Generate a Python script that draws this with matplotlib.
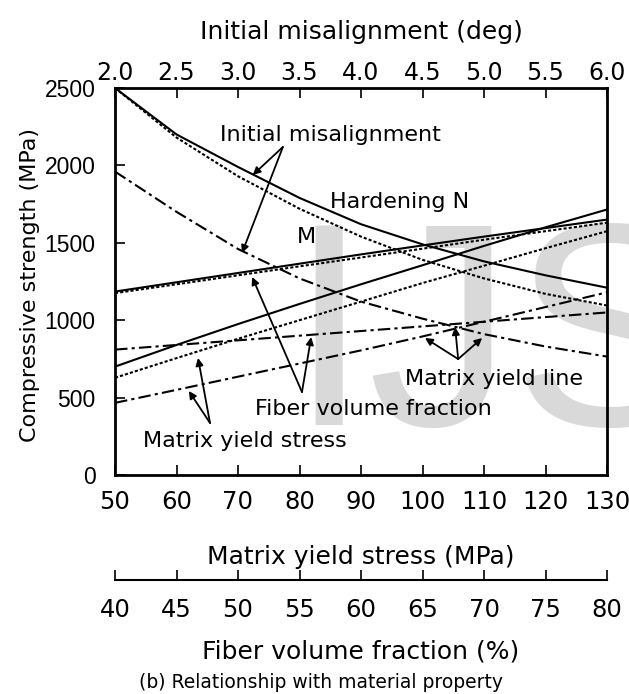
import numpy as np
import matplotlib.pyplot as plt

plt.rcParams['font.family'] = 'DejaVu Sans'

# initial misalignment (deg) -> top axis
misalign = [2.0, 2.5, 3.0, 3.5, 4.0, 4.5, 5.0, 5.5, 6.0]
mis_N = [2500, 2200, 1990, 1790, 1620, 1490, 1380, 1290, 1210]
mis_M = [2500, 2180, 1930, 1720, 1540, 1390, 1270, 1170, 1095]
mis_yield = [1960, 1700, 1460, 1270, 1120, 1010, 910, 830, 765]

# matrix yield stress (MPa) -> bottom axis
yield_stress = [50, 60, 70, 80, 90, 100, 110, 120, 130]
ys_N = [700, 840, 975, 1105, 1232, 1355, 1480, 1600, 1715]
ys_M = [628, 755, 880, 1000, 1120, 1240, 1352, 1465, 1575]
ys_yield = [466, 550, 635, 720, 805, 895, 990, 1085, 1180]

# fiber volume fraction (%) -> second bottom axis
fiber = [40, 45, 50, 55, 60, 65, 70, 75, 80]
fv_N = [1185, 1245, 1305, 1365, 1425, 1483, 1540, 1595, 1650]
fv_M = [1175, 1232, 1290, 1348, 1405, 1462, 1520, 1575, 1630]
fv_yield = [810, 840, 870, 900, 930, 960, 990, 1020, 1050]

mis_ticks = [2.0, 2.5, 3.0, 3.5, 4.0, 4.5, 5.0, 5.5, 6.0]
ys_ticks = [50, 60, 70, 80, 90, 100, 110, 120, 130]
fv_ticks = [40, 45, 50, 55, 60, 65, 70, 75, 80]
str_ticks = [0, 500, 1000, 1500, 2000, 2500]

sty_N = dict(color='black', lw=1.5, ls='-')
sty_M = dict(color='black', lw=1.5, ls=(0, (1.5, 1)))
sty_Y = dict(color='black', lw=1.5, ls=(0, (6, 2, 1.5, 2)))

fig = plt.figure(figsize=(6.29, 6.94), dpi=100, facecolor='white')
ax = fig.add_axes([115/629, 1 - 475/694, 492/629, 387/694])
ax.patch.set_visible(False)

# watermark
fig.text(288/629, 1 - 425/694, 'IJS', fontsize=208, family='Liberation Sans',
         color='#d9d9d9', ha='left', va='baseline', zorder=-1)

ax.set_xlim(50, 130)
ax.set_ylim(0, 2500)
ax.set_xticks(ys_ticks)
ax.set_yticks(str_ticks, labels=[str(t) for t in str_ticks],
              fontfamily='Liberation Sans', fontsize=16.5)
ax.tick_params(direction='in', length=7, width=1.2, right=False)
ax.tick_params(axis='x', pad=11, labelsize=17.5)
ax.tick_params(axis='y', pad=14)
for s in ax.spines.values():
    s.set_linewidth(2)
ax.set_xlabel('Matrix yield stress (MPa)', fontsize=18, va='center')
ax.xaxis.set_label_coords(0.5, (475 - 557) / 387)
ax.set_ylabel('Compressive strength (MPa)', fontsize=16, va='center')
ax.yaxis.set_label_coords((30 - 115) / 492, 0.49)

ax.plot(yield_stress, ys_N, **sty_N)
ax.plot(yield_stress, ys_M, **sty_M)
ax.plot(yield_stress, ys_yield, **sty_Y)

# top axis: initial misalignment
ax_top = ax.twiny()
ax_top.set_xlim(2, 6)
ax_top.set_xticks(mis_ticks)
ax_top.set_xticklabels(['%.1f' % t for t in mis_ticks])
ax_top.tick_params(direction='in', length=7, width=1.2, labelsize=17, pad=2)
for s in ax_top.spines.values():
    s.set_visible(False)
ax_top.set_xlabel('Initial misalignment (deg)', fontsize=18, labelpad=16)
ax_top.plot(misalign, mis_N, **sty_N)
ax_top.plot(misalign, mis_M, **sty_M)
ax_top.plot(misalign, mis_yield, **sty_Y)

# detached bottom axis: fiber volume fraction
ax_fib = ax.twiny()
ax_fib.set_xlim(40, 80)
ax_fib.xaxis.set_ticks_position('bottom')
ax_fib.xaxis.set_label_position('bottom')
for k in ['top', 'left', 'right']:
    ax_fib.spines[k].set_visible(False)
ax_fib.spines['bottom'].set_position(('outward', 75.6))
ax_fib.spines['bottom'].set_linewidth(1.5)
ax_fib.set_xticks(fv_ticks)
ax_fib.tick_params(direction='in', length=7, width=1.2, labelsize=17.5, pad=13)
ax_fib.set_xlabel('Fiber volume fraction (%)', fontsize=18, va='center')
ax_fib.xaxis.set_label_coords(0.5, (475 - 651) / 387)
ax_fib.plot(fiber, fv_N, **sty_N)
ax_fib.plot(fiber, fv_M, **sty_M)
ax_fib.plot(fiber, fv_yield, **sty_Y)

# annotations (main axis data coords)
arr = dict(arrowstyle='-|>', color='black', lw=1.3, mutation_scale=11,
           shrinkA=0, shrinkB=0)
ax_fib.text(85.1, 2196, 'Initial misalignment', transform=ax.transData,
            fontsize=16, ha='center', va='center')
for tip in [(72.4, 1938), (70.65, 1434)]:
    ax_fib.annotate('', xy=tip, xytext=(77.3, 2119), xycoords=ax.transData,
                    textcoords=ax.transData, arrowprops=arr)
ax_fib.text(85.0, 1725, 'Hardening N', transform=ax.transData,
            fontsize=16, ha='left', va='baseline')
ax_fib.text(79.6, 1499, 'M', transform=ax.transData,
            fontsize=16, ha='left', va='baseline')
ax_fib.text(97.15, 581, 'Matrix yield line', transform=ax.transData,
            fontsize=16, ha='left', va='baseline')
for tip in [(100.4, 885), (105.3, 956), (109.7, 885)]:
    ax_fib.annotate('', xy=tip, xytext=(105.8, 749), xycoords=ax.transData,
                    textcoords=ax.transData, arrowprops=arr)
ax_fib.text(72.8, 388, 'Fiber volume fraction', transform=ax.transData,
            fontsize=16, ha='left', va='baseline')
for tip in [(72.3, 1279), (81.9, 891)]:
    ax_fib.annotate('', xy=tip, xytext=(80.4, 536), xycoords=ax.transData,
                    textcoords=ax.transData, arrowprops=arr)
ax_fib.text(54.55, 181, 'Matrix yield stress', transform=ax.transData,
            fontsize=16, ha='left', va='baseline')
for tip in [(63.5, 756), (62.0, 543)]:
    ax_fib.annotate('', xy=tip, xytext=(65.45, 336), xycoords=ax.transData,
                    textcoords=ax.transData, arrowprops=arr)

fig.text(321/629, 1 - 683/694, '(b) Relationship with material property',
         fontsize=13.5, ha='center', va='center')

fig.savefig('out.png', dpi=100)
